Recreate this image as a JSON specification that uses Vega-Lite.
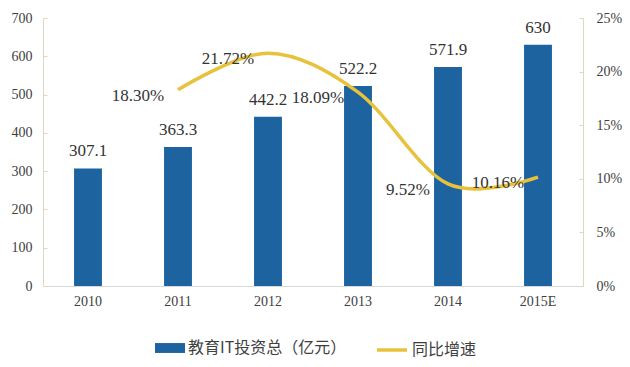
{
  "$schema": "https://vega.github.io/schema/vega-lite/v6.json",
  "width": 540,
  "height": 268,
  "autosize": {"type": "none"},
  "padding": {"left": 43, "top": 18, "right": 47, "bottom": 81},
  "background": "white",
  "config": {
    "view": {"stroke": null},
    "axis": {"grid": false, "labelFont": "Liberation Serif, DejaVu Serif, serif", "labelColor": "#404040", "labelFontSize": 14, "title": null, "labelOverlap": false},
    "legend": {"labelFont": "Noto Sans CJK SC", "labelFontSize": 16, "labelColor": "#404040", "title": null, "padding": 0}
  },
  "data": {"values": [
    {"year": "2010", "invest": 307.1, "label": "307.1", "growth": null, "glabel": null},
    {"year": "2011", "invest": 363.3, "label": "363.3", "growth": 0.183, "glabel": "18.30%"},
    {"year": "2012", "invest": 442.2, "label": "442.2", "growth": 0.2172, "glabel": "21.72%"},
    {"year": "2013", "invest": 522.2, "label": "522.2", "growth": 0.1809, "glabel": "18.09%"},
    {"year": "2014", "invest": 571.9, "label": "571.9", "growth": 0.0952, "glabel": "9.52%"},
    {"year": "2015E", "invest": 630, "label": "630", "growth": 0.1016, "glabel": "10.16%"}
  ]},
  "encoding": {
    "x": {"field": "year", "type": "nominal", "sort": null,
      "scale": {"paddingInner": 0.69, "paddingOuter": 0.345},
      "axis": {"labelAngle": 0, "domainColor": "#d9d9d9", "ticks": false, "labelPadding": 8, "labelFontSize": 14, "labelFont": "Liberation Serif, DejaVu Serif, serif"}}
  },
  "layer": [
    {
      "encoding": {
        "y": {"field": "invest", "type": "quantitative", "scale": {"domain": [0, 700]},
          "axis": {"values": [0,100,200,300,400,500,600,700], "labelFont": "Liberation Serif, DejaVu Serif, serif", "labelFontSize": 14, "labelOverlap": false, "domainColor": "#ddd8c0", "tickColor": "#ddd8c0", "tickSize": -4, "labelPadding": 15, "orient": "left"}}
      },
      "layer": [
        {"mark": {"type": "bar"},
         "encoding": {
           "fill": {"datum": "教育IT投资总（亿元）", "type": "nominal",
             "scale": {"range": ["#1c63a0"]},
             "legend": {"orient": "none", "legendX": 112, "legendY": 315, "symbolType": "M-1,-0.33H1V0.33H-1Z", "symbolSize": 900, "symbolStrokeWidth": 0, "labelOffset": 3}}
         }},
        {"mark": {"type": "text", "baseline": "bottom", "dy": -8, "font": "Liberation Serif, DejaVu Serif, serif", "fontSize": 17, "color": "#333333"},
         "encoding": {
           "text": {"field": "label"}
         }}
      ]
    },
    {
      "transform": [{"filter": "datum.growth != null"}],
      "encoding": {
        "y": {"field": "growth", "type": "quantitative", "scale": {"domain": [0, 0.25]},
          "axis": {"values": [0,0.05,0.1,0.15,0.2,0.25], "format": ".0%", "orient": "right", "labelFont": "Liberation Serif, DejaVu Serif, serif", "labelFontSize": 14, "labelOverlap": false, "domainColor": "#ddd8c0", "tickColor": "#ddd8c0", "tickSize": -4, "labelPadding": 17}}
      },
      "layer": [
        {"mark": {"type": "line", "interpolate": "cardinal", "tension": 0, "strokeWidth": 3.5},
         "encoding": {
           "stroke": {"datum": "同比增速", "type": "nominal", "scale": {"range": ["#e8c23c"]},
             "legend": {"orient": "none", "legendX": 332, "legendY": 315, "symbolType": "stroke", "symbolSize": 900, "symbolStrokeWidth": 3.5, "labelOffset": 3}}
         }},
        {"mark": {"type": "text", "dx": -40, "dy": 6, "font": "Liberation Serif, DejaVu Serif, serif", "fontSize": 17, "color": "#333333"},
         "encoding": {
           "text": {"field": "glabel"}
         }}
      ]
    }
  ],
  "resolve": {"scale": {"y": "independent", "fill": "independent", "stroke": "independent"}}
}
